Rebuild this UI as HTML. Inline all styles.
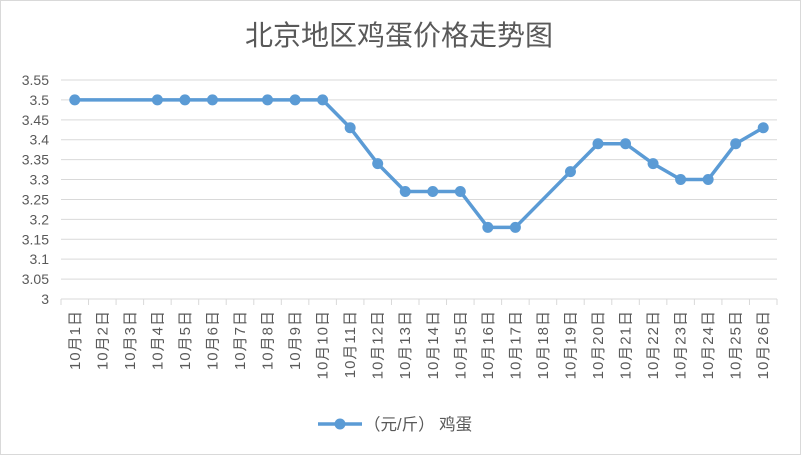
<!DOCTYPE html>
<html><head><meta charset="utf-8"><style>
body{margin:0;background:#fff;}
svg text{font-family:"Liberation Sans","Noto Sans CJK SC",sans-serif;fill:#595959;}
</style></head><body>
<svg width="801" height="455">
<rect x="0.5" y="0.5" width="800" height="454" fill="#fff" stroke="#d9d9d9"/>
<text x="399" y="45" font-size="28" text-anchor="middle">北京地区鸡蛋价格走势图</text>
<g id="grid"></g><g id="yl"></g><g id="xl"></g><g id="series"></g>
<g>
<line x1="318" y1="424" x2="362" y2="424" stroke="#5b9bd5" stroke-width="3.5"/>
<circle cx="340" cy="424" r="5.5" fill="#5b9bd5"/>
<text x="364" y="430" font-size="16.5">（元/斤） 鸡蛋</text>
</g>
</svg>
<script>
const categories=[];for(let i=1;i<=26;i++)categories.push('10月'+i+'日');
const values=[3.5,null,null,3.5,3.5,3.5,null,3.5,3.5,3.5,3.43,3.34,3.27,3.27,3.27,3.18,3.18,null,3.32,3.39,3.39,3.34,3.30,3.30,3.39,3.43];
const yTicks=[3,3.05,3.1,3.15,3.2,3.25,3.3,3.35,3.4,3.45,3.5,3.55];
const NS='http://www.w3.org/2000/svg';
const x0=61,x1=777,yTop=80,yBot=299,yMin=3,yMax=3.55;
const step=(x1-x0)/categories.length;
const X=i=>x0+step*(i+0.5);
const Y=v=>yBot-(v-yMin)/(yMax-yMin)*(yBot-yTop);
function mk(t,a,p){const e=document.createElementNS(NS,t);for(const k in a)e.setAttribute(k,a[k]);p.appendChild(e);return e;}
const grid=document.getElementById('grid'),yl=document.getElementById('yl'),xl=document.getElementById('xl'),ser=document.getElementById('series');
yTicks.forEach(v=>{
 const l=mk('line',{x1:x0,x2:x1,y1:Y(v),y2:Y(v),stroke:'#d9d9d9','stroke-width':1},grid);
 
 
 const t=mk('text',{x:49,y:Y(v)+5,'font-size':14,'text-anchor':'end'},yl);
 t.textContent=String(v);
 
 
});
for(let i=0;i<=categories.length;i++){
 const xx=x0+step*i;
 const l=mk('line',{x1:xx,x2:xx,y1:yBot,y2:yBot+6,stroke:'#d9d9d9'},grid);
 
 
}
categories.forEach((c,i)=>{
 const t=mk('text',{x:0,y:0,'font-size':15,'letter-spacing':'1','text-anchor':'end',transform:`translate(${X(i)+5},310) rotate(-90)`},xl);
 t.textContent=c;
 
 
});
const pts=[];values.forEach((v,i)=>{if(v!=null)pts.push([X(i),Y(v)]);});
const pl=mk('polyline',{points:pts.map(p=>p.join(',')).join(' '),fill:'none',stroke:'#5b9bd5','stroke-width':3.5,'stroke-linejoin':'round'},ser);


values.forEach((v,i)=>{if(v==null)return;
 const c=mk('circle',{cx:X(i),cy:Y(v),r:5.5,fill:'#5b9bd5'},ser);
 
 
});
</script>
</body></html>
